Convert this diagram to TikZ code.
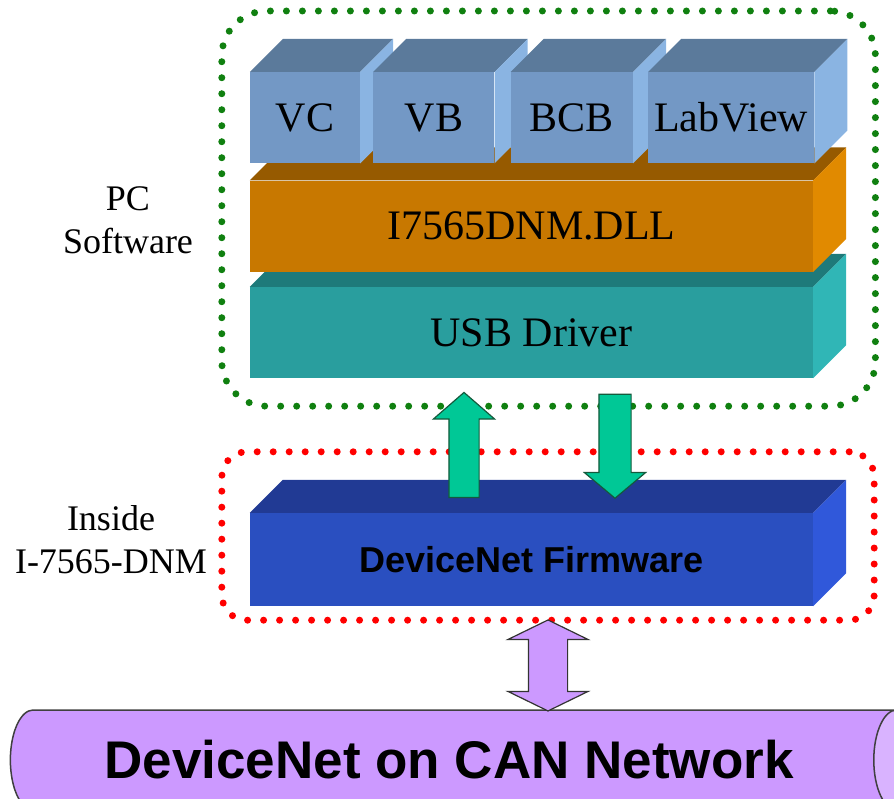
\documentclass[tikz,border=0pt]{standalone}
\usepackage{fontspec}
\setmainfont{Liberation Serif}
\setsansfont{Liberation Sans}
\usetikzlibrary{positioning,shapes.geometric,shapes.arrows,fit,calc}

\definecolor{langfront}{RGB}{115,152,197}
\definecolor{langtop}{RGB}{91,122,155}
\definecolor{langside}{RGB}{138,180,226}
\definecolor{dllfront}{RGB}{200,120,0}
\definecolor{dlltop}{RGB}{150,90,0}
\definecolor{dllside}{RGB}{225,138,0}
\definecolor{usbfront}{RGB}{41,158,158}
\definecolor{usbtop}{RGB}{30,122,122}
\definecolor{usbside}{RGB}{48,182,182}
\definecolor{fwfront}{RGB}{42,79,192}
\definecolor{fwtop}{RGB}{33,58,148}
\definecolor{fwside}{RGB}{48,88,218}
\definecolor{flowfill}{RGB}{0,200,150}
\definecolor{flowline}{RGB}{20,90,60}
\definecolor{busfill}{RGB}{204,153,255}
\definecolor{busend}{RGB}{217,179,255}
\definecolor{dotgreen}{RGB}{16,128,16}
\definecolor{dotred}{RGB}{255,0,0}

% top and right faces of a block
\newcommand{\slabfaces}[3]{%
  \fill[#2] (#1.north west) -- ++(33,33) -- ([shift={(33,33)}]#1.north east) -- (#1.north east) -- cycle;
  \fill[#3] (#1.north east) -- ++(33,33) -- ([shift={(33,33)}]#1.south east) -- (#1.south east) -- cycle;}

\begin{document}
\begin{tikzpicture}[x=1pt,y=1pt]
  \tikzstyle{slab}=[rectangle,inner sep=0pt,minimum width=563pt,minimum height=91pt,
                    font=\fontsize{42}{46}\selectfont]
  \tikzstyle{langbox}=[slab,fill=langfront,anchor=south west]
  \tikzstyle{sidenote}=[align=center,font=\fontsize{36}{43}\selectfont]
  \tikzstyle{dotframe}=[rectangle,line width=7pt,line cap=round,dash pattern=on 0pt off 16pt]
  \tikzstyle{flow}=[single arrow,draw=flowline,fill=flowfill,line width=1.2pt,inner xsep=0pt,
                    inner ysep=14.5pt,minimum height=105pt,single arrow head extend=15.5pt]
  \tikzstyle{bus}=[double arrow,draw=black!80,fill=busfill,line width=1.2pt,inner xsep=0pt,
                   inner ysep=19pt,minimum height=91pt,double arrow head extend=20.5pt,
                   double arrow tip angle=128,rotate=90]

  \useasboundingbox (0,0) rectangle (894,798);

  % network
  \node[cylinder,aspect=1.0,minimum height=909pt,minimum width=100pt,draw=black!75,line width=1.5pt,
        cylinder uses custom fill,cylinder body fill=busfill,cylinder end fill=busend,
        font=\sffamily\bfseries\fontsize{53}{58}\selectfont] (can) at (449,38) {DeviceNet on CAN Network};

  % firmware
  \node[slab,fill=fwfront,minimum height=93pt,font=\sffamily\bfseries\fontsize{36}{40}\selectfont]
    (fw) at (531.5,238.5) {DeviceNet Firmware};
  \slabfaces{fw}{fwtop}{fwside}

  % pc software stack
  \node[slab,fill=usbfront] (usb) at (531.5,465.5) {USB Driver};
  \slabfaces{usb}{usbtop}{usbside}
  \node[slab,fill=dllfront,above=15pt of usb] (dll) {I7565DNM.DLL};
  \slabfaces{dll}{dlltop}{dllside}
  \node[langbox,minimum width=110pt] (vc) at ([yshift=17pt]dll.north west) {VC};
  \slabfaces{vc}{langtop}{langside}
  \node[langbox,minimum width=121pt,right=13pt of vc] (vb) {VB};
  \slabfaces{vb}{langtop}{langside}
  \node[langbox,minimum width=122pt,right=16pt of vb] (bcb) {BCB};
  \slabfaces{bcb}{langtop}{langside}
  \node[langbox,minimum width=166pt,right=15pt of bcb] (labview) {LabView};
  \slabfaces{labview}{langtop}{langside}

  % frames
  \node[dotframe,draw=dotgreen,rounded corners=45pt,inner sep=28pt,
        fit={(usb.south west) ([shift={(33,33)}]labview.north east)}] (pc) {};
  \node[dotframe,draw=dotred,rounded corners=25pt,inner sep=28pt,
        fit={([yshift=14pt]fw.south west) ([shift={(33,33)}]fw.north east)}] (dev) {};
  \node[sidenote] (pclabel) at (128,578) {PC\\Software};
  \node[sidenote] (devlabel) at (111,258) {Inside\\I-7565-DNM};

  % data flow
  \node[flow,rotate=90,single arrow tip angle=98]
    (up) at ($(usb.south)!0.5!(fw.north)+(-67.5,-6)$) {};
  \node[flow,rotate=-90,minimum height=104pt,inner ysep=15.5pt,single arrow head extend=14.5pt,
        single arrow tip angle=100]
    (down) at ($(usb.south)!0.5!(fw.north)+(83.5,6)$) {};
  \node[bus] (link) at ($(dev.south)!0.5!(dev.south|-can.north)+(0,1)$) {};
\end{tikzpicture}
\end{document}
